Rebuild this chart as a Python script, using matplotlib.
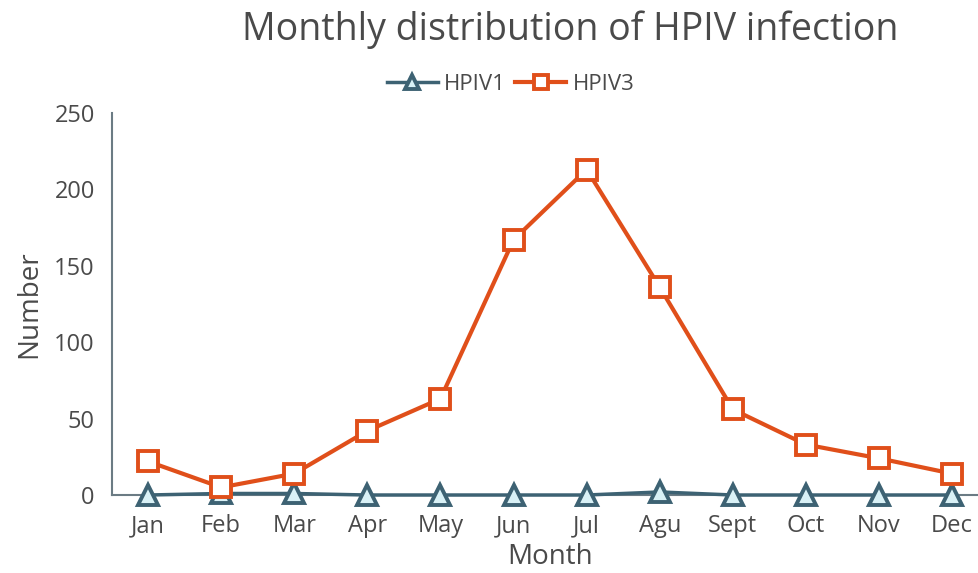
import matplotlib.pyplot as plt

months = ["Jan", "Feb", "Mar", "Apr", "May", "Jun", "Jul", "Agu", "Sept", "Oct", "Nov", "Dec"]
hpiv1 = [0, 1, 1, 0, 0, 0, 0, 2, 0, 0, 0, 0]
hpiv3 = [22, 5, 14, 42, 63, 167, 213, 136, 56, 33, 24, 14]
y_ticks = [0, 50, 100, 150, 200, 250]

TEXT = "#4a4a4a"
BLUE = "#3d6273"
ORANGE = "#e04f1a"

plt.rcParams["font.family"] = ["Open Sans", "DejaVu Sans"]

fig = plt.figure(figsize=(9.79, 5.73), dpi=100)
ax = fig.add_axes([0.1139, 0.1361, 0.896, 0.6667])

x = list(range(len(months)))
ax.plot(x, hpiv1, color=BLUE, lw=2.5, marker="^", ms=14, mfc="#d9f1f6",
        mec=BLUE, mew=2.8, label="HPIV1", zorder=3, clip_on=False)
ax.plot(x, hpiv3, color=ORANGE, lw=3, marker="s", ms=15, mfc="white",
        mec=ORANGE, mew=2.8, label="HPIV3", zorder=4, clip_on=False)

ax.set_xlim(-0.5, 11.5)
ax.set_ylim(0, 250)
ax.set_xticks(x)
ax.set_xticklabels(months)
ax.set_yticks(y_ticks)
ax.tick_params(axis="y", length=0, labelsize=17, colors=TEXT, pad=12)
ax.tick_params(axis="x", length=0, labelsize=17, colors=TEXT, pad=14)
for side in ["top", "right"]:
    ax.spines[side].set_visible(False)
for side in ["left", "bottom"]:
    ax.spines[side].set_color("#6b7b84")
    ax.spines[side].set_linewidth(1.5)

ax.set_xlabel("Month", fontsize=20, color=TEXT, labelpad=3)
ax.set_ylabel("Number", fontsize=20, color=TEXT, labelpad=8)

fig.text(0.582, 0.948, "Monthly distribution of HPIV infection", fontsize=27,
         color=TEXT, ha="center", va="center")

leg = ax.legend(loc="center", bbox_to_anchor=(0.455, 1.075), ncol=2, frameon=False,
                fontsize=16, handlelength=2.3, columnspacing=0.4, handletextpad=0.3,
                labelcolor=TEXT, markerscale=0.7)

fig.savefig("out.png", dpi=100)
